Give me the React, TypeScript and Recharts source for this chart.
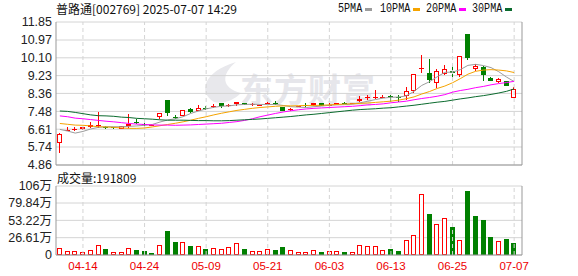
import React from 'react';
import { ComposedChart, Bar, Line, XAxis, YAxis, CartesianGrid, ReferenceLine } from 'recharts';

// ---------- data ----------
const dates = [
  '04-09', '04-10', '04-11', '04-14', '04-15', '04-16', '04-17', '04-18', '04-21', '04-22',
  '04-23', '04-24', '04-25', '04-28', '04-29', '04-30', '05-06', '05-07', '05-08', '05-09',
  '05-12', '05-13', '05-14', '05-15', '05-16', '05-19', '05-20', '05-21', '05-22', '05-23',
  '05-26', '05-27', '05-28', '05-29', '05-30', '06-03', '06-04', '06-05', '06-06', '06-09',
  '06-10', '06-11', '06-12', '06-13', '06-16', '06-17', '06-18', '06-19', '06-20', '06-23',
  '06-24', '06-25', '06-26', '06-27', '06-30', '07-01', '07-02', '07-03', '07-04', '07-07',
];
const opens = [
  5.95, 6.53, 6.59, 6.60, 6.71, 6.76, 6.73, 6.70, 6.63, 6.76,
  6.98, 6.86, 6.80, 7.21, 8.03, 7.20, 7.26, 7.62, 7.49, 7.66,
  7.74, 7.87, 7.77, 7.83, 7.88, 7.81, 7.77, 7.88, 7.87, 7.68,
  7.54, 7.69, 7.80, 7.77, 7.89, 7.77, 7.78, 7.91, 7.85, 7.98,
  8.15, 8.18, 8.18, 8.21, 8.18, 8.24, 8.48, 9.58, 9.36, 8.88,
  9.29, 9.45, 9.24, 11.25, 9.55, 9.63, 9.13, 8.94, 8.95, 8.15,
];
const highs = [
  6.40, 6.70, 6.70, 6.72, 6.94, 7.43, 6.79, 6.72, 6.78, 7.34,
  7.09, 6.92, 6.84, 7.42, 8.03, 7.30, 7.55, 7.63, 7.77, 7.72,
  7.83, 7.88, 7.83, 7.94, 7.89, 7.87, 7.81, 7.96, 7.98, 7.71,
  7.64, 7.75, 7.89, 7.90, 7.90, 7.88, 7.89, 7.94, 7.88, 8.22,
  8.26, 8.51, 8.27, 8.29, 8.27, 8.67, 9.31, 10.25, 10.03, 9.54,
  9.77, 9.76, 10.21, 11.25, 9.78, 9.68, 9.14, 9.11, 8.96, 8.67,
];
const lows = [
  5.46, 6.50, 6.50, 6.58, 6.68, 6.65, 6.63, 6.64, 6.62, 6.65,
  6.86, 6.76, 6.78, 7.12, 7.26, 7.10, 7.25, 7.42, 7.48, 7.55,
  7.67, 7.65, 7.70, 7.73, 7.77, 7.75, 7.75, 7.83, 7.78, 7.50,
  7.52, 7.68, 7.70, 7.76, 7.74, 7.65, 7.77, 7.83, 7.84, 7.96,
  8.02, 8.08, 8.13, 7.96, 7.92, 8.04, 8.39, 9.38, 8.86, 8.62,
  9.25, 9.18, 9.16, 10.01, 9.45, 8.96, 8.96, 8.87, 8.73, 8.14,
];
const closes = [
  6.37, 6.56, 6.61, 6.71, 6.81, 6.81, 6.71, 6.67, 6.76, 6.87,
  6.96, 6.83, 6.82, 7.41, 7.38, 7.17, 7.54, 7.43, 7.64, 7.63,
  7.76, 7.73, 7.79, 7.93, 7.78, 7.83, 7.79, 7.90, 7.86, 7.52,
  7.62, 7.73, 7.78, 7.89, 7.75, 7.79, 7.88, 7.89, 7.87, 8.11,
  8.17, 8.20, 8.20, 8.18, 8.15, 8.46, 9.31, 9.61, 9.03, 9.46,
  9.57, 9.35, 10.20, 10.10, 9.72, 9.28, 8.97, 9.05, 8.74, 8.58,
];
const ma5 = [
  6.60, 6.52, 6.42, 6.50, 6.62, 6.70, 6.73, 6.73, 6.73, 6.75,
  6.77, 6.80, 6.84, 6.96, 7.06, 7.12, 7.22, 7.38, 7.50, 7.60,
  7.68, 7.73, 7.75, 7.80, 7.82, 7.83, 7.82, 7.82, 7.82, 7.77,
  7.71, 7.69, 7.67, 7.71, 7.74, 7.78, 7.80, 7.81, 7.84, 7.90,
  7.98, 8.06, 8.13, 8.17, 8.18, 8.24, 8.46, 8.75, 8.93, 9.17,
  9.39, 9.40, 9.52, 9.73, 9.78, 9.72, 9.62, 9.42, 9.16, 8.94,
];
const ma10 = [
  6.89, 6.85, 6.81, 6.80, 6.77, 6.73, 6.72, 6.70, 6.67, 6.65,
  6.65, 6.67, 6.72, 6.78, 6.84, 6.90, 6.97, 7.05, 7.14, 7.22,
  7.31, 7.39, 7.46, 7.53, 7.58, 7.63, 7.67, 7.70, 7.73, 7.75,
  7.75, 7.76, 7.77, 7.77, 7.78, 7.80, 7.82, 7.84, 7.85, 7.87,
  7.89, 7.92, 7.95, 7.98, 8.03, 8.10, 8.19, 8.33, 8.45, 8.60,
  8.72, 8.88, 9.08, 9.30, 9.44, 9.50, 9.52, 9.50, 9.46, 9.38,
];
const ma20 = [
  7.26, 7.22, 7.15, 7.12, 7.08, 7.04, 7.00, 6.97, 6.93, 6.89,
  6.86, 6.84, 6.82, 6.81, 6.81, 6.80, 6.81, 6.82, 6.84, 6.86,
  6.88, 6.90, 6.94, 6.98, 7.04, 7.12, 7.22, 7.30, 7.38, 7.45,
  7.51, 7.56, 7.60, 7.63, 7.65, 7.67, 7.69, 7.71, 7.73, 7.76,
  7.80, 7.82, 7.85, 7.90, 7.94, 7.98, 8.05, 8.11, 8.16, 8.22,
  8.30, 8.42, 8.50, 8.56, 8.64, 8.70, 8.78, 8.84, 8.89, 8.95,
];
const ma30 = [
  7.50, 7.48, 7.43, 7.37, 7.31, 7.27, 7.26, 7.24, 7.20, 7.18,
  7.14, 7.12, 7.10, 7.07, 7.05, 7.05, 7.05, 7.04, 7.03, 7.03,
  7.02, 7.02, 7.03, 7.05, 7.07, 7.09, 7.11, 7.14, 7.17, 7.20,
  7.23, 7.27, 7.31, 7.34, 7.38, 7.42, 7.46, 7.50, 7.54, 7.57,
  7.59, 7.61, 7.64, 7.66, 7.70, 7.74, 7.78, 7.83, 7.88, 7.93,
  7.97, 8.03, 8.09, 8.14, 8.20, 8.25, 8.31, 8.38, 8.46, 8.58,
];
// volume in 万
const volumes = [
  10.3, 6.6, 5.6, 4.1, 7.2, 14.9, 9.2, 4.1, 4.1, 11.3,
  7.7, 6.1, 3.1, 14.9, 37.3, 20.0, 19.5, 13.8, 13.3, 9.2,
  10.3, 9.2, 11.8, 18.0, 9.2, 5.6, 5.6, 8.7, 7.7, 11.8,
  7.0, 4.1, 4.1, 7.2, 4.6, 5.6, 5.6, 4.6, 4.1, 14.9,
  13.8, 13.8, 7.7, 9.2, 6.1, 23.0, 30.2, 93.2, 63.0, 47.1,
  56.4, 43.0, 23.0, 98.3, 59.9, 53.8, 27.6, 21.5, 24.6, 19.18,
];
// 1 = red (hollow), 0 = green (filled)
const volUp = [
  1, 1, 1, 1, 1, 1, 0, 1, 1, 1,
  0, 0, 0, 1, 0, 0, 1, 0, 1, 0,
  1, 1, 1, 1, 0, 1, 1, 1, 0, 0,
  1, 1, 1, 1, 0, 1, 1, 0, 1, 1,
  1, 1, 1, 0, 0, 1, 1, 1, 0, 1,
  1, 0, 1, 0, 0, 0, 0, 1, 0, 0,
];
const priceTicks = [4.86, 5.74, 6.61, 7.48, 8.36, 9.23, 10.10, 10.97, 11.85];
const volTicks = [0, 26.61, 53.22, 79.84, 106];
const gridDates = ['04-14', '04-24', '05-09', '05-21', '06-03', '06-13', '06-25', '07-07'];
const legendItems = [
  { name: '5PMA', color: '#9c9c9c' },
  { name: '10PMA', color: '#f5a300' },
  { name: '20PMA', color: '#ff00ff' },
  { name: '30PMA', color: '#0b6b2e' },
];

const data = dates.map((d, i) => ({
  date: d,
  open: opens[i],
  high: highs[i],
  low: lows[i],
  close: closes[i],
  range: [lows[i], highs[i]],
  ma5: ma5[i],
  ma10: ma10[i],
  ma20: ma20[i],
  ma30: ma30[i],
  vol: volumes[i],
  volUp: volUp[i],
}));

// ---------- styles ----------
const RED = '#ff0000';
const GREEN = '#008000';
const GRID = '#d4d4d4';
const BORDER = '#999999';
const AXIS_FONT = '"Liberation Sans", Arial, "Noto Sans CJK SC", sans-serif';
const CJK_FONT = '"Noto Sans CJK SC", "Noto Sans", sans-serif';

function Candle(props: any) {
  const { x, y, width, height, payload } = props;
  if (x == null || payload == null) return null;
  const { open, close, high, low } = payload;
  const c = Math.floor(x + width / 2) + 0.5;
  const k = high > low ? height / (high - low) : 0;
  const py = (v: number) => y + (high - v) * k;
  const yH = Math.round(py(high));
  const yL = Math.round(py(low));
  const yTop = Math.round(py(Math.max(open, close)));
  const yBot = Math.round(py(Math.min(open, close)));
  const up = close >= open;
  const color = up ? RED : GREEN;
  const bodyH = yBot - yTop;
  if (bodyH < 2) {
    return (
      <g>
        <line x1={c} x2={c} y1={yH} y2={yL} stroke={color} strokeWidth={1} />
        <line x1={c - 2.5} x2={c + 2.5} y1={yTop + 0.5} y2={yTop + 0.5} stroke={color} strokeWidth={1} />
      </g>
    );
  }
  if (up) {
    return (
      <g>
        <line x1={c} x2={c} y1={yH} y2={yTop} stroke={color} strokeWidth={1} />
        <line x1={c} x2={c} y1={yBot} y2={yL} stroke={color} strokeWidth={1} />
        <rect x={c - 2} y={yTop + 0.5} width={4} height={bodyH - 1} fill="#ffffff" stroke={color} strokeWidth={1} />
      </g>
    );
  }
  return (
    <g>
      <line x1={c} x2={c} y1={yH} y2={yL} stroke={color} strokeWidth={1} />
      <rect x={c - 2.5} y={yTop} width={5} height={bodyH} fill={color} />
    </g>
  );
}

function VolBar(props: any) {
  const { x, y, width, height, payload } = props;
  if (x == null || payload == null) return null;
  const c = Math.floor(x + width / 2) + 0.5;
  const yTop = Math.round(y);
  const yBot = Math.round(y + height);
  const h = Math.max(yBot - yTop, 1);
  if (payload.volUp) {
    return <rect x={c - 2} y={yTop + 0.5} width={4} height={Math.max(h - 1, 0.5)} fill="#ffffff" stroke={RED} strokeWidth={1} />;
  }
  return <rect x={c - 2.5} y={yTop} width={5} height={h} fill={GREEN} />;
}

const volFmt = (v: number) => (v === 0 ? '0' : `${v}万`);

export default function App() {
  return (
    <div style={{ position: 'absolute', left: 0, top: 0, width: 578, height: 276, background: '#ffffff', overflow: 'hidden' }}>
      {/* watermark */}
      <svg width={578} height={276} style={{ position: 'absolute', left: 0, top: 0 }}>
        <path d="M214 102 C198 92 203 72 236 62 C221 74 221 88 241 93 C233 101 223 104 214 102 Z" fill="#e8e8ec" />
        <text x={240} y={102} fontSize={33} fontWeight={700} fill="#e6e6eb" fontFamily={CJK_FONT} letterSpacing={1}>东方财富</text>
      </svg>

      {/* title */}
      <div style={{ position: 'absolute', left: 56, top: 2, fontFamily: CJK_FONT, fontSize: 12, lineHeight: '14px', color: '#111', whiteSpace: 'nowrap' }}>
        普路通[002769] 2025-07-07 14:29
      </div>

      {/* legend */}
      {legendItems.map((it, i) => {
        const lefts = [338, 380, 426, 472];
        const dashes = [365, 413, 459, 505];
        return (
          <React.Fragment key={it.name}>
            <div style={{ position: 'absolute', left: lefts[i], top: 2, fontFamily: '"Liberation Mono", monospace', fontSize: 12, lineHeight: '14px', color: '#111', transform: 'scaleX(0.84)', transformOrigin: 'left center', whiteSpace: 'nowrap' }}>
              {it.name}
            </div>
            <div style={{ position: 'absolute', left: dashes[i], top: 8, width: 7, height: 3, background: it.color }} />
          </React.Fragment>
        );
      })}

      {/* price chart */}
      <div style={{ position: 'absolute', left: 0, top: 0 }}>
        <ComposedChart width={578} height={175} data={data} margin={{ top: 22, right: 0, bottom: 10, left: 0 }}>
          <XAxis dataKey="date" hide padding={{ left: 0, right: 4 }} />
          <YAxis
            yAxisId="p"
            domain={[4.86, 11.85]}
            ticks={priceTicks}
            interval={0}
            width={56}
            tickLine={false}
            tickSize={0}
            tickMargin={4}
            axisLine={{ stroke: BORDER }}
            tick={{ fontSize: 12.5, fill: '#222', fontFamily: AXIS_FONT }}
            tickFormatter={(v: number) => v.toFixed(2)}
            allowDataOverflow
          />
          <YAxis yAxisId="pr" orientation="right" domain={[4.86, 11.85]} width={56} tick={false} tickLine={false} axisLine={{ stroke: BORDER }} />
          <CartesianGrid yAxisId="p" vertical={false} stroke={GRID} />
          {gridDates.map((d) => (
            <ReferenceLine key={d} yAxisId="p" x={d} stroke={GRID} strokeDasharray="4 3" />
          ))}
          <ReferenceLine yAxisId="p" y={4.86} stroke={BORDER} />
          <Bar yAxisId="p" dataKey="range" barSize={5} shape={Candle} isAnimationActive={false} />
          <Line yAxisId="p" type="linear" dataKey="ma5" stroke="#9c9c9c" strokeWidth={1} dot={false} activeDot={false} isAnimationActive={false} />
          <Line yAxisId="p" type="linear" dataKey="ma10" stroke="#f5a300" strokeWidth={1} dot={false} activeDot={false} isAnimationActive={false} />
          <Line yAxisId="p" type="linear" dataKey="ma20" stroke="#ff00ff" strokeWidth={1} dot={false} activeDot={false} isAnimationActive={false} />
          <Line yAxisId="p" type="linear" dataKey="ma30" stroke="#0b6b2e" strokeWidth={1} dot={false} activeDot={false} isAnimationActive={false} />
        </ComposedChart>
      </div>

      {/* volume title */}
      <div style={{ position: 'absolute', left: 57, top: 171, fontFamily: CJK_FONT, fontSize: 12, lineHeight: '14px', color: '#111', whiteSpace: 'nowrap' }}>
        成交量:191809
      </div>

      {/* volume chart */}
      <div style={{ position: 'absolute', left: 0, top: 170 }}>
        <ComposedChart width={578} height={106} data={data} margin={{ top: 16, right: 0, bottom: 0, left: 0 }}>
          <XAxis
            dataKey="date"
            padding={{ left: 0, right: 4 }}
            height={21}
            interval={0}
            tickLine={false}
            tickSize={0}
            tickMargin={7}
            axisLine={{ stroke: BORDER }}
            tick={{ fontSize: 11.5, fill: '#ee0000', fontFamily: AXIS_FONT }}
            tickFormatter={(d: string) => (gridDates.includes(d) ? d : '')}
          />
          <YAxis
            yAxisId="v"
            domain={[0, 106]}
            ticks={volTicks}
            interval={0}
            width={56}
            tickLine={false}
            tickSize={0}
            tickMargin={4}
            axisLine={{ stroke: BORDER }}
            tick={{ fontSize: 12.5, fill: '#222', fontFamily: AXIS_FONT }}
            tickFormatter={volFmt}
          />
          <YAxis yAxisId="vr" orientation="right" domain={[0, 106]} width={56} tick={false} tickLine={false} axisLine={{ stroke: BORDER }} />
          <CartesianGrid yAxisId="v" vertical={false} stroke={GRID} />
          {gridDates.map((d) => (
            <ReferenceLine key={d} yAxisId="v" x={d} stroke={GRID} strokeDasharray="4 3" />
          ))}
          <Bar yAxisId="v" dataKey="vol" barSize={5} shape={VolBar} isAnimationActive={false} />
        </ComposedChart>
      </div>
    </div>
  );
}
